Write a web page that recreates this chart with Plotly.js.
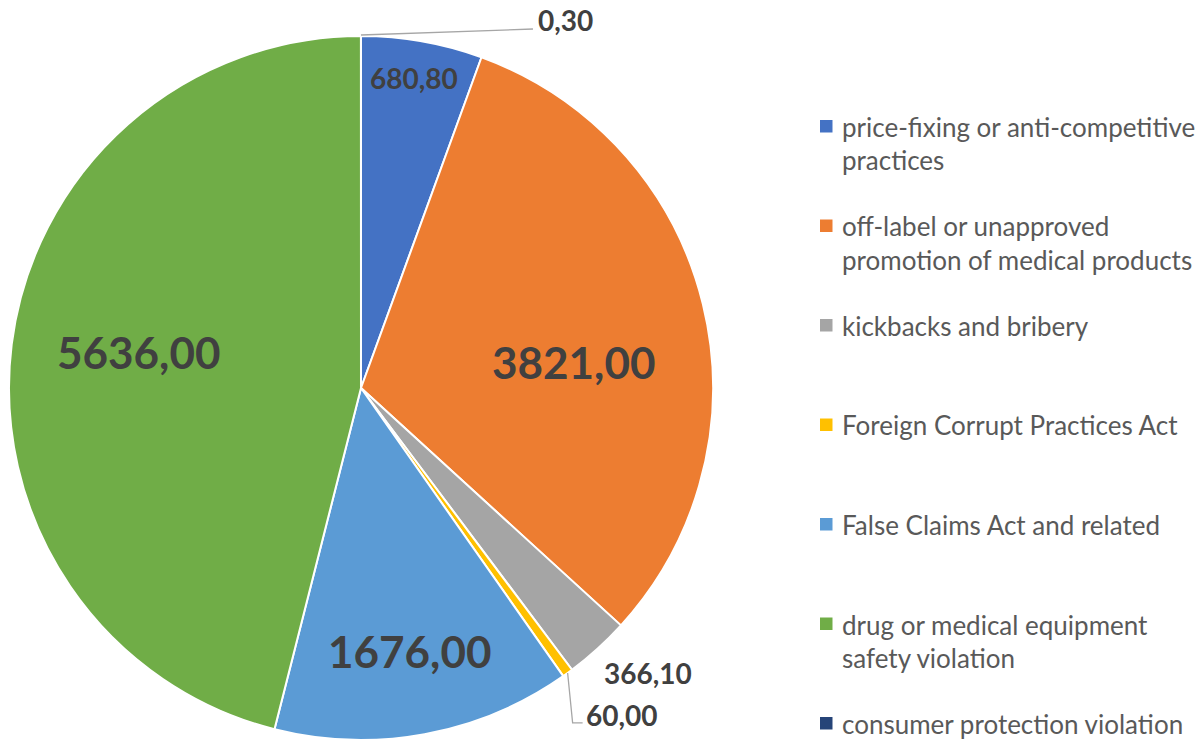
<!DOCTYPE html>
<html><head><meta charset="utf-8">
<script src="https://cdn.plot.ly/plotly-3.0.1.min.js"></script>
<style>html,body{margin:0;padding:0;background:#fff;}#chart{width:1204px;height:740px;}</style>
</head><body><div id="chart"></div>
<script>
// ---- data ----
const categories = [
  "price-fixing or anti-competitive practices",
  "off-label or unapproved promotion of medical products",
  "kickbacks and bribery",
  "Foreign Corrupt Practices Act",
  "False Claims Act and related",
  "drug or medical equipment safety violation",
  "consumer protection violation"
];
const values = [680.80, 3821.00, 366.10, 60.00, 1676.00, 5636.00, 0.30];
const legendLines = [
  ["price-fixing or anti-competitive", "practices"],
  ["off-label or unapproved", "promotion of medical products"],
  ["kickbacks and bribery"],
  ["Foreign Corrupt Practices Act"],
  ["False Claims Act and related"],
  ["drug or medical equipment", "safety violation"],
  ["consumer protection violation"]
];

// ---- styles ----
const colors = ["#4472C4", "#ED7D31", "#A5A5A5", "#FFC000", "#5B9BD5", "#70AD47", "#264478"];
const W = 1204, H = 740;
const cx = 361, cy = 388, R = 352;
const labelStyle = [
  {mode: "in",  k: 0.895, dx: -2,  dy: 0,   size: 28},
  {mode: "in",  k: 0.61,  dx: 4,   dy: 25,  size: 44},
  {mode: "out", dx: 4,  dy: 24,  size: 28},
  {mode: "elbow", dx: 16, dy: 42, size: 28},
  {mode: "in",  k: 0.76,  dx: 0,   dy: 0,   size: 44},
  {mode: "in",  k: 0.636, dx: 0,   dy: -8,  size: 44},
  {mode: "straight", dx: 175, dy: -16, size: 28}
];
const labelColor = "#404040";
const legendColor = "#595959";
const FONT = "Lato, 'Open Sans', sans-serif";

const px = x => x / W;
const py = y => 1 - y / H;
const fmt = v => v.toFixed(2).replace(".", ",");

const total = values.reduce((a, b) => a + b, 0);
const annotations = [];
const shapes = [];
let cum = 0;
values.forEach((v, i) => {
  const mid = (cum + v / 2) / total * 2 * Math.PI;
  cum += v;
  const ux = Math.sin(mid), uy = -Math.cos(mid);
  const st = labelStyle[i];
  const font = {family: FONT, size: st.size, color: labelColor, weight: 700};
  if (st.mode === "in") {
    const x = cx + ux * R * st.k + st.dx, y = cy + uy * R * st.k + st.dy;
    annotations.push({x: px(x), y: py(y), xref: "paper", yref: "paper", text: "<b>" + fmt(v) + "</b>",
      showarrow: false, xanchor: "center", yanchor: "middle", font});
  } else {
    const ax = cx + ux * R, ay = cy + uy * R;
    const lx = ax + st.dx, ly = ay + st.dy;
    annotations.push({x: px(lx), y: py(ly), xref: "paper", yref: "paper", text: "<b>" + fmt(v) + "</b>",
      showarrow: false, xanchor: "left", yanchor: "middle", font});
    const lc = {color: "#A6A6A6", width: 1.3};
    if (st.mode === "straight") {
      shapes.push({type: "line", xref: "paper", yref: "paper", x0: px(ax), y0: py(ay - 1), x1: px(lx - 3), y1: py(ly + 9), line: lc});
    } else if (st.mode === "elbow") {
      shapes.push({type: "path", xref: "paper", yref: "paper",
        path: `M ${px(ax)} ${py(ay)} L ${px(ax + 5)} ${py(ly + 8)} L ${px(lx - 1)} ${py(ly + 8)}`, line: lc});
    }
  }
});

// legend (drawn as annotations/shapes built from the arrays)
legendLines.forEach((lines, i) => {
  const y0 = 127 + i * 99.5;
  shapes.push({type: "rect", xref: "paper", yref: "paper", x0: px(820), x1: px(832.5), y0: py(y0 - 7), y1: py(y0 + 5.5),
    fillcolor: colors[i], line: {width: 0}});
  lines.forEach((t, j) => {
    annotations.push({x: px(840), y: py(y0 + j * 33), xref: "paper", yref: "paper", text: t, showarrow: false,
      xanchor: "left", yanchor: "middle", font: {family: FONT, size: 26, color: legendColor}});
  });
});

const trace = {
  type: "pie",
  labels: categories,
  values: values,
  sort: false,
  direction: "clockwise",
  rotation: 0,
  textinfo: "none",
  hoverinfo: "label+value+percent",
  marker: {colors: colors, line: {color: "#FFFFFF", width: 2}},
  domain: {x: [px(cx - R), px(cx + R)], y: [0, py(cy - R)]},
  showlegend: false
};

Plotly.newPlot("chart", [trace], {
  width: W, height: H,
  margin: {l: 0, r: 0, t: 0, b: 0},
  paper_bgcolor: "#FFFFFF",
  plot_bgcolor: "#FFFFFF",
  showlegend: false,
  annotations, shapes
}, {displayModeBar: false, staticPlot: true});
</script>
</body></html>
